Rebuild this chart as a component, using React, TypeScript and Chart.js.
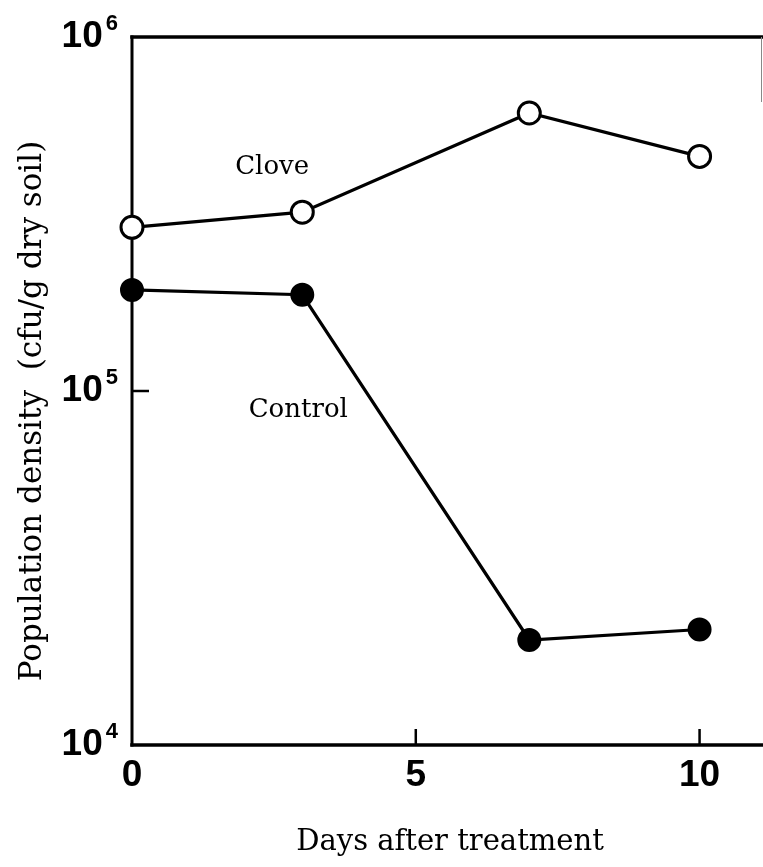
import React, { useEffect, useRef } from "react";
import { Chart, registerables } from "chart.js";

Chart.register(...registerables);

// ---- data ----
const days = [0, 3, 7, 10];
const cloveValues = [2.9e5, 3.2e5, 6.1e5, 4.6e5];
const controlValues = [1.93e5, 1.87e5, 1.98e4, 2.12e4];
const seriesNames = ["Clove", "Control"];
const seriesLabelX = [2.47, 2.93];
const seriesLabelY = [4.3e5, 8.8e4];
const xTickValues = [0, 5, 10];
const yTickExponents = [4, 5, 6];
const xTitle = "Days after treatment";
const yTitle = "Population density  (cfu/g dry soil)";

const SANS = "'Liberation Sans', Arial, Helvetica, sans-serif";
const SERIF = "'DejaVu Serif', 'Liberation Serif', serif";

const framePlugin = {
  id: "frame",
  beforeDatasetsDraw(chart: any) {
    const { ctx, chartArea: a, scales } = chart;
    const xs = scales.x;
    const ys = scales.y;
    const seg = (x1: number, y1: number, x2: number, y2: number) => {
      ctx.beginPath();
      ctx.moveTo(x1, y1);
      ctx.lineTo(x2, y2);
      ctx.stroke();
    };
    ctx.save();
    ctx.strokeStyle = "#000";
    ctx.lineCap = "square";
    ctx.lineWidth = 3;
    seg(a.left, a.top, a.left, a.bottom);
    ctx.lineWidth = 3.5;
    seg(a.left, a.top, a.right, a.top);
    seg(a.left, a.bottom, a.right, a.bottom);
    // faint right edge
    ctx.lineWidth = 1;
    ctx.strokeStyle = "#888";
    ctx.lineCap = "butt";
    seg(a.right - 0.5, a.top, a.right - 0.5, a.top + 65);
    // ticks
    ctx.strokeStyle = "#000";
    ctx.lineWidth = 2.5;
    for (const e of yTickExponents) {
      const py = ys.getPixelForValue(Math.pow(10, e));
      if (py > a.top + 2 && py < a.bottom - 2) seg(a.left, py, a.left + 17, py);
    }
    for (const v of xTickValues) {
      const px = xs.getPixelForValue(v);
      if (px > a.left + 2 && px < a.right - 2) seg(px, a.bottom, px, a.bottom - 16);
    }
    ctx.restore();
  },
  afterDraw(chart: any) {
    const { ctx, chartArea: a, scales } = chart;
    const xs = scales.x;
    const ys = scales.y;
    ctx.save();
    ctx.fillStyle = "#000";
    // y tick labels 10^n
    const baseFont = `bold 37px ${SANS}`;
    const supFont = `bold 22px ${SANS}`;
    for (const e of yTickExponents) {
      const py = ys.getPixelForValue(Math.pow(10, e));
      ctx.font = supFont;
      const sup = String(e);
      const ws = ctx.measureText(sup).width;
      const right = a.left - 14;
      ctx.textAlign = "left";
      ctx.textBaseline = "middle";
      ctx.fillText(sup, right - ws, py - 13);
      ctx.font = baseFont;
      ctx.textAlign = "right";
      ctx.fillText("10", right - ws - 3, py);
    }
    // x tick labels
    ctx.font = baseFont;
    ctx.textAlign = "center";
    ctx.textBaseline = "middle";
    for (const v of xTickValues) {
      const px = xs.getPixelForValue(v);
      ctx.fillText(String(v), px, a.bottom + 31);
    }
    // series labels
    ctx.font = `26px ${SERIF}`;
    for (let i = 0; i < seriesNames.length; i++) {
      ctx.fillText(
        seriesNames[i],
        xs.getPixelForValue(seriesLabelX[i]),
        ys.getPixelForValue(seriesLabelY[i])
      );
    }
    // x title
    ctx.font = `29px ${SERIF}`;
    ctx.textBaseline = "alphabetic";
    ctx.fillText(xTitle, (a.left + a.right) / 2 + 3, a.bottom + 105);
    // y title
    ctx.font = `31px ${SERIF}`;
    ctx.translate(33, (a.top + a.bottom) / 2 + 20);
    ctx.rotate(-Math.PI / 2);
    ctx.textBaseline = "middle";
    ctx.fillText(yTitle, 0, 0);
    ctx.restore();
  },
};

export default function App() {
  const ref = useRef<HTMLCanvasElement | null>(null);
  useEffect(() => {
    if (!ref.current) return;
    const mk = (vals: number[]) => days.map((d, i) => ({ x: d, y: vals[i] }));
    const chart = new Chart(ref.current, {
      type: "line",
      data: {
        datasets: [
          {
            label: seriesNames[0],
            data: mk(cloveValues),
            borderColor: "#000",
            borderWidth: 3.2,
            pointRadius: 11,
            pointBorderWidth: 3,
            pointBackgroundColor: "#fff",
            pointBorderColor: "#000",
            tension: 0,
            fill: false,
            clip: false,
          },
          {
            label: seriesNames[1],
            data: mk(controlValues),
            borderColor: "#000",
            borderWidth: 3.2,
            pointRadius: 11,
            pointBorderWidth: 2,
            pointBackgroundColor: "#000",
            pointBorderColor: "#000",
            tension: 0,
            fill: false,
            clip: false,
          },
        ],
      } as any,
      options: {
        animation: false,
        responsive: false,
        devicePixelRatio: 1,
        layout: { autoPadding: false, padding: { top: 37, right: 1, left: 0, bottom: 0 } },
        plugins: { legend: { display: false }, tooltip: { enabled: false } },
        scales: {
          x: {
            type: "linear",
            min: 0,
            max: 11.1,
            grid: { display: false },
            border: { display: false },
            ticks: { display: false },
            afterFit: (s: any) => {
              s.height = 122;
            },
          },
          y: {
            type: "logarithmic",
            min: 1e4,
            max: 1e6,
            grid: { display: false },
            border: { display: false },
            ticks: { display: false },
            afterFit: (s: any) => {
              s.width = 132;
            },
          },
        },
      } as any,
      plugins: [framePlugin],
    });
    return () => chart.destroy();
  }, []);
  return (
    <div style={{ position: "fixed", left: 0, top: 0, width: 763, height: 867, background: "#fff" }}>
      <canvas ref={ref} width={763} height={867} style={{ display: "block" }} />
    </div>
  );
}
